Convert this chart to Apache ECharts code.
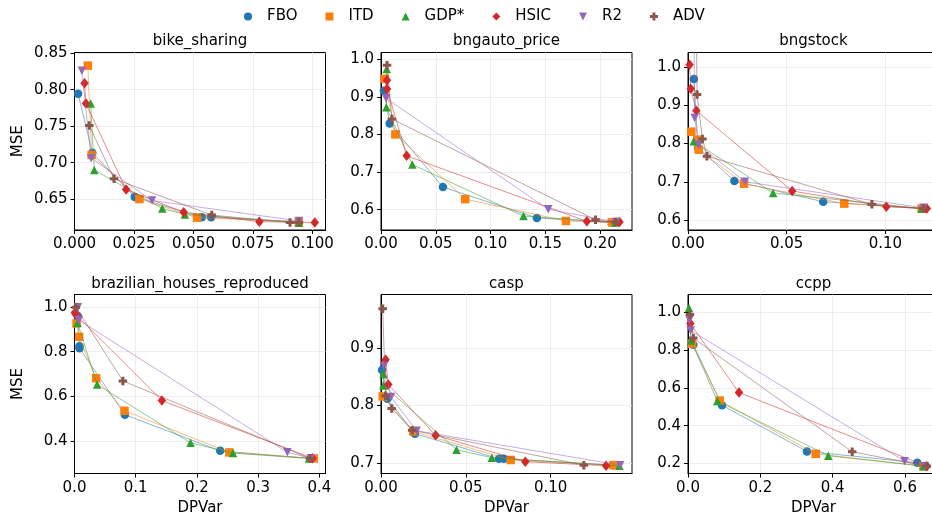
<!DOCTYPE html>
<html>
<head>
<meta charset="utf-8">
<script src="https://cdn.jsdelivr.net/npm/echarts@6/dist/echarts.min.js"></script>
<style>
html,body{margin:0;padding:0;background:#fff;}
#chart{width:932px;height:522px;}
</style>
</head>
<body>
<div id="chart"></div>
<script>
// ---- data ----
const methods = ['FBO', 'ITD', 'GDP*', 'HSIC', 'R2', 'ADV'];
const datasetNames = ['bike_sharing', 'bngauto_price', 'bngstock', 'brazilian_houses_reproduced', 'casp', 'ccpp'];

// each: [FBO, ITD, GDP*, HSIC, R2, ADV], points are [DPVar, MSE]
const bike_sharing = [
  [[0.0015,0.7945],[0.0075,0.7136],[0.0253,0.653],[0.0535,0.625],[0.0574,0.625],[0.0943,0.619]],
  [[0.0056,0.833],[0.0072,0.7105],[0.0273,0.650],[0.0515,0.6245],[0.0943,0.619]],
  [[0.0068,0.781],[0.0083,0.690],[0.0369,0.637],[0.0464,0.629],[0.0943,0.6175]],
  [[0.0042,0.809],[0.0048,0.781],[0.0217,0.663],[0.0459,0.632],[0.0777,0.619],[0.101,0.618]],
  [[0.0031,0.826],[0.0070,0.706],[0.0326,0.648],[0.0943,0.620]],
  [[0.0062,0.751],[0.0166,0.678],[0.0577,0.628],[0.0906,0.618],[0.0943,0.618]]
];
const bngauto_price = [
  [[0.0027,0.916],[0.0079,0.829],[0.0565,0.660],[0.1422,0.578],[0.2115,0.566]],
  [[0.0033,0.948],[0.0131,0.800],[0.0769,0.628],[0.1687,0.570],[0.2106,0.566]],
  [[0.0052,0.974],[0.0049,0.872],[0.0286,0.720],[0.130,0.583],[0.2137,0.566]],
  [[0.0055,0.944],[0.0055,0.921],[0.0234,0.743],[0.1878,0.569],[0.2176,0.567]],
  [[0.0046,0.896],[0.1526,0.601],[0.2146,0.567]],
  [[0.0055,0.984],[0.010,0.841],[0.1957,0.573],[0.214,0.567]]
];
const bngstock = [
  [[0.003,0.969],[0.0051,0.789],[0.0235,0.702],[0.0685,0.648],[0.1193,0.630]],
  [[0.0017,0.831],[0.0047,0.810],[0.0054,0.784],[0.0284,0.695],[0.0792,0.643],[0.1184,0.630]],
  [[0.0029,0.806],[0.0431,0.671],[0.1184,0.630]],
  [[0.0008,1.006],[0.0014,0.943],[0.0042,0.886],[0.0528,0.676],[0.1005,0.635],[0.121,0.630]],
  [[0.003,1.12],[0.0034,0.867],[0.0054,0.797],[0.0288,0.700],[0.1193,0.632]],
  [[0.0042,1.12],[0.0046,0.928],[0.0073,0.812],[0.0096,0.767],[0.0932,0.641],[0.1193,0.630]]
];
const brazilian_houses_reproduced = [
  [[0.0054,0.96],[0.0082,0.825],[0.0082,0.816],[0.0823,0.517],[0.238,0.355],[0.386,0.321]],
  [[0.0033,0.927],[0.0076,0.867],[0.0354,0.681],[0.0817,0.535],[0.2529,0.348],[0.391,0.321]],
  [[0.005,0.93],[0.037,0.653],[0.1896,0.391],[0.2589,0.345],[0.383,0.321]],
  [[0.0005,0.975],[0.0033,0.964],[0.1428,0.581],[0.3886,0.322]],
  [[0.0054,1.0],[0.0071,0.942],[0.3477,0.349],[0.386,0.322]],
  [[0.0022,1.0],[0.079,0.669],[0.3847,0.321]]
];
const casp = [
  [[0.0006,0.862],[0.0037,0.812],[0.020,0.751],[0.0696,0.707],[0.0724,0.707],[0.1367,0.696]],
  [[0.001,0.816],[0.019,0.755],[0.0765,0.705],[0.137,0.696]],
  [[0.0014,0.855],[0.0014,0.835],[0.0445,0.723],[0.0653,0.709],[0.1406,0.695]],
  [[0.0027,0.880],[0.0043,0.837],[0.0322,0.748],[0.0851,0.702],[0.1327,0.695]],
  [[0.0018,0.869],[0.0059,0.815],[0.021,0.756],[0.141,0.696]],
  [[0.001,0.969],[0.0027,0.817],[0.0063,0.795],[0.0184,0.757],[0.1196,0.696]]
];
const ccpp = [
  [[0.0147,0.828],[0.094,0.508],[0.329,0.264],[0.634,0.204]],
  [[0.011,0.834],[0.0876,0.533],[0.353,0.251],[0.651,0.186]],
  [[0.0028,1.023],[0.0083,0.851],[0.0811,0.531],[0.388,0.241],[0.651,0.186]],
  [[0.0065,0.94],[0.141,0.575],[0.66,0.186]],
  [[0.004,0.96],[0.0074,0.904],[0.599,0.212],[0.655,0.186]],
  [[0.0055,0.988],[0.0147,0.864],[0.454,0.262],[0.66,0.186]]
];

// axis limits and tick labels
const xLimits = [[0,0.1055],[0,0.229],[0,0.1272],[0,0.41],[0,0.148],[0,0.694]];
const yLimits = [[0.6076,0.851],[0.546,1.0177],[0.574,1.038],[0.2534,1.057],[0.6814,0.994],[0.147,1.094]];
const xTicks = [[0,0.025,0.05,0.075,0.1],[0,0.05,0.1,0.15,0.2],[0,0.05,0.1],[0,0.1,0.2,0.3,0.4],[0,0.05,0.1],[0,0.2,0.4,0.6]];
const yTicks = [[0.65,0.7,0.75,0.8,0.85],[0.6,0.7,0.8,0.9,1.0],[0.6,0.7,0.8,0.9,1.0],[0.4,0.6,0.8,1.0],[0.7,0.8,0.9],[0.2,0.4,0.6,0.8,1.0]];
const xDecimals = [3,2,2,1,2,1];
const yDecimals = [2,1,1,1,1,1];

// ---- styling ----
const allData = [bike_sharing, bngauto_price, bngstock, brazilian_houses_reproduced, casp, ccpp];
const colors = ['#1f77b4','#ff7f0e','#2ca02c','#d62728','#9467bd','#8c564b'];
const symbols = ['circle','rect','triangle','diamond','path://M0,0L10,0L5,10Z','path://M3.2,0H6.8V3.2H10V6.8H6.8V10H3.2V6.8H0V3.2H3.2Z'];
const symbolSizes = [8.5,8.5,8.5,[8.5,10.5],8.5,8.5];
const FONT = 'DejaVu Sans';

const lefts = [74.5, 381, 688];
const tops = [52.5, 294.5];
const gw = 251;
const ghs = [177.5, 179];

const grids = [], xAxes = [], yAxes = [], titles = [], series = [];
for (let i = 0; i < 6; i++) {
  const col = i % 3, row = Math.floor(i / 3);
  grids.push({left: lefts[col], top: tops[row], width: gw, height: ghs[row], show: true,
    borderColor: '#000', borderWidth: 1, backgroundColor: 'transparent', containLabel: false,
    outerBoundsMode: 'none'});
  titles.push({text: datasetNames[i], left: lefts[col] + gw / 2, top: row === 0 ? 34 : 277,
    textAlign: 'center', padding: 0,
    textStyle: {fontFamily: FONT, fontSize: 15, fontWeight: 'normal', color: '#000'}});
  const xd = xDecimals[i], yd = yDecimals[i];
  xAxes.push({type: 'value', gridIndex: i, min: xLimits[i][0], max: xLimits[i][1],
    name: row === 1 ? 'DPVar' : '', nameLocation: 'middle', nameGap: 27,
    nameTextStyle: {fontFamily: FONT, fontSize: 15, color: '#000'},
    axisLine: {show: true, onZero: false, lineStyle: {color: '#000', width: 1}},
    axisTick: {show: true, inside: false, length: 4, customValues: xTicks[i], lineStyle: {color: '#000', width: 1}},
    axisLabel: {customValues: xTicks[i], margin: 7, fontFamily: FONT, fontSize: 15, color: '#000',
      formatter: v => Number(v).toFixed(xd)},
    splitLine: {show: true, lineStyle: {color: '#e8e8e8', width: 0.8}}});
  yAxes.push({type: 'value', gridIndex: i, min: yLimits[i][0], max: yLimits[i][1],
    name: col === 0 ? 'MSE' : '', nameLocation: 'middle', nameGap: 49,
    nameTextStyle: {fontFamily: FONT, fontSize: 15, color: '#000'},
    axisLine: {show: true, onZero: false, lineStyle: {color: '#000', width: 1}},
    axisTick: {show: true, inside: false, length: 4, customValues: yTicks[i], lineStyle: {color: '#000', width: 1}},
    axisLabel: {customValues: yTicks[i], margin: 7, fontFamily: FONT, fontSize: 15, color: '#000',
      formatter: v => Number(v).toFixed(yd)},
    splitLine: {show: true, lineStyle: {color: '#e8e8e8', width: 0.8}}});
  for (let m = 0; m < methods.length; m++) {
    series.push({type: 'line', name: methods[m], xAxisIndex: i, yAxisIndex: i,
      data: allData[i][m], symbol: symbols[m], symbolSize: symbolSizes[m],
      showSymbol: true, clip: true, animation: false, z: 2 + m,
      itemStyle: {color: colors[m], opacity: 1},
      lineStyle: {color: colors[m], width: 0.9, opacity: 0.6},
      emphasis: {disabled: true}});
  }
}

const chart = echarts.init(document.getElementById('chart'), null, {renderer: 'canvas'});
chart.setOption({
  backgroundColor: '#fff',
  animation: false,
  title: titles,
  legend: {top: 4, left: 239, itemWidth: 8, itemHeight: 8, itemGap: 28,
    data: methods.map((m, k) => ({name: m, icon: symbols[k]})),
    textStyle: {fontFamily: FONT, fontSize: 15, color: '#000', padding: [0, 0, 0, 10]}},
  grid: grids,
  xAxis: xAxes,
  yAxis: yAxes,
  series: series
});
</script>
</body>
</html>
